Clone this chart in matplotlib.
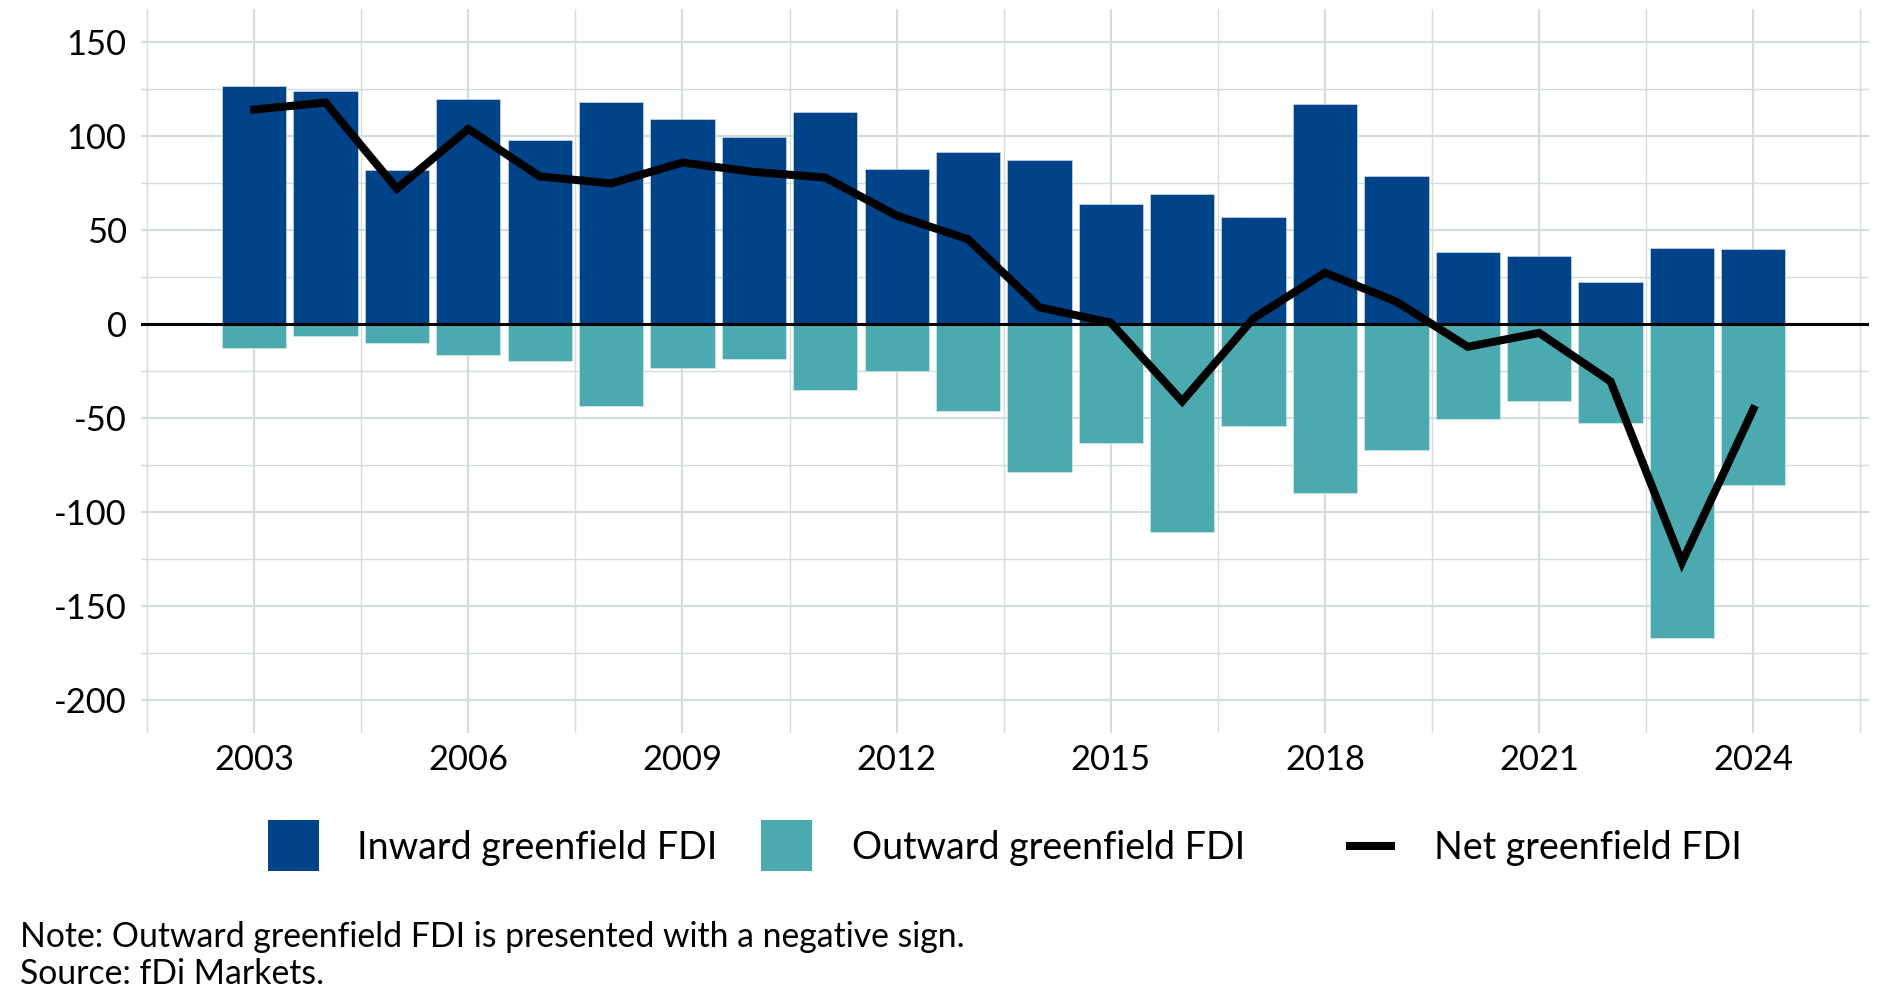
import matplotlib
matplotlib.use("Agg")
import matplotlib.pyplot as plt
from matplotlib.patches import Rectangle
from matplotlib.lines import Line2D
import numpy as np

plt.rcParams['font.family'] = ['Lato', 'DejaVu Sans']
plt.rcParams['axes.unicode_minus'] = False

years = list(range(2003, 2025))
inward = [126.6, 124.1, 81.9, 120.0, 97.9, 118.2, 109.2, 99.6, 113.1, 82.6, 91.5,
          87.4, 63.8, 69.3, 57.1, 117.3, 79.0, 38.5, 36.2, 22.3, 40.4, 40.1]
outward = [-12.4, -6.2, -9.8, -16.2, -19.3, -43.3, -23.2, -18.6, -35.1, -24.8, -46.3,
           -78.4, -63.3, -110.3, -53.9, -89.9, -67.0, -50.5, -40.8, -52.7, -167.0, -85.3]
net = [114.2, 117.9, 72.1, 103.9, 78.6, 74.9, 86.0, 81.0, 78.0, 57.8, 45.2,
       9.0, 0.8, -41.0, 3.2, 27.4, 12.0, -12.0, -4.6, -30.4, -126.6, -45.2]

x_ticks = [2003, 2006, 2009, 2012, 2015, 2018, 2021, 2024]
y_ticks = [-200, -150, -100, -50, 0, 50, 100, 150]
legend_labels = ["Inward greenfield FDI", "Outward greenfield FDI", "Net greenfield FDI"]
note_lines = ["Note: Outward greenfield FDI is presented with a negative sign.",
              "Source: fDi Markets."]

BLUE = "#004388"
TEAL = "#4AAAB0"
GRID = "#D4DCE0"

W, H = 1890, 1006
fig = plt.figure(figsize=(W / 100, H / 100), dpi=100)

def fx(px):
    return px / W

def fy(py):
    return 1 - py / H

ax = fig.add_axes([fx(140.6), fy(733), fx(1869) - fx(140.6), fy(9.3) - fy(733)])
ax.set_xlim(2001.41, 2025.62)
ax.set_ylim(-217.4, 167.5)

# grid
for yv in np.arange(-200, 151, 50):
    ax.axhline(yv, color=GRID, lw=1.6, zorder=0)
for yv in np.arange(-175, 151, 50):
    ax.axhline(yv, color=GRID, lw=1.0, zorder=0)
for xv in np.arange(2003, 2025, 3):
    ax.axvline(xv, color=GRID, lw=1.6, zorder=0)
for xv in np.arange(2001.5, 2026, 3):
    ax.axvline(xv, color=GRID, lw=1.0, zorder=0)

ax.bar(years, inward, width=0.9, color=BLUE, zorder=2, edgecolor="#dfe6ee", linewidth=0.4)
ax.bar(years, outward, width=0.9, color=TEAL, zorder=2, edgecolor="#e0eef0", linewidth=0.4)
ax.axhline(0, color="black", lw=2.2, zorder=3)
ax.plot(years, net, color="black", lw=5.8, zorder=4, solid_joinstyle="miter")

for s in ax.spines.values():
    s.set_visible(False)
ax.set_xticks(x_ticks)
ax.set_xticklabels([str(v) for v in x_ticks])
ax.set_yticks(y_ticks)
ax.set_yticklabels([str(v) for v in y_ticks])
ax.tick_params(axis='both', length=0, labelsize=24.8, colors='black')
ax.tick_params(axis='y', pad=10)
ax.tick_params(axis='x', pad=8)
ax.grid(False)

# legend (manual)
leg_fs = 27.1
fig.add_artist(Rectangle((fx(267.6), fy(871)), (319.3 - 267.6) / W, 51 / H,
                         transform=fig.transFigure, facecolor=BLUE, edgecolor='none'))
fig.text(fx(357), fy(859), legend_labels[0], fontsize=leg_fs, ha='left', va='baseline')
fig.add_artist(Rectangle((fx(760.6), fy(871)), (812.4 - 760.6) / W, 51 / H,
                         transform=fig.transFigure, facecolor=TEAL, edgecolor='none'))
fig.text(fx(852), fy(859), legend_labels[1], fontsize=leg_fs, ha='left', va='baseline')
fig.add_artist(Line2D([fx(1346), fx(1394.6)], [fy(846), fy(846)], transform=fig.transFigure,
                      color='black', lw=5.8, solid_capstyle='butt'))
fig.text(fx(1434), fy(859), legend_labels[2], fontsize=leg_fs, ha='left', va='baseline')

fig.text(fx(20), fy(946.7), note_lines[0], fontsize=24.3, ha='left', va='baseline')
fig.text(fx(20), fy(984), note_lines[1], fontsize=24.3, ha='left', va='baseline')

fig.savefig("out.png", dpi=100, facecolor='white')
